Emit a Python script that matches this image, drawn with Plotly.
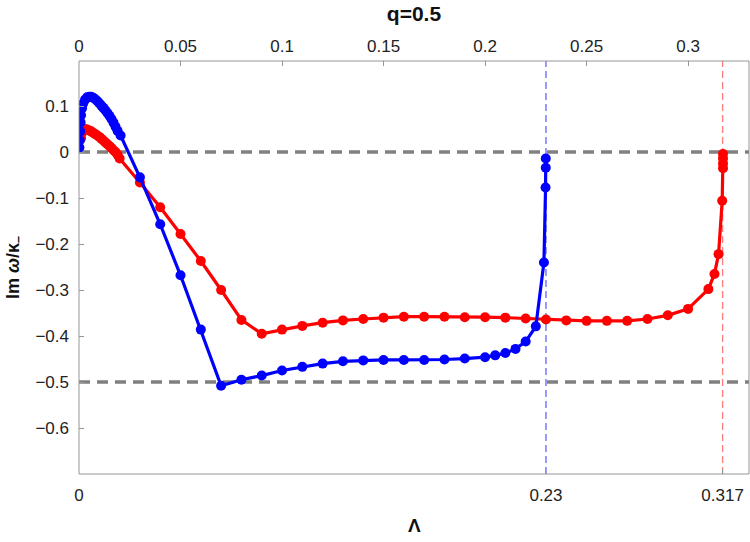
import plotly.graph_objects as go

# Blue series (Lambda, Im omega / kappa_-)
blue_x = [0.0002, 0.0004, 0.0006, 0.0008, 0.001, 0.0015, 0.002, 0.003, 0.004, 0.005,
          0.006, 0.007, 0.008, 0.009, 0.010, 0.011, 0.012, 0.013, 0.014, 0.015,
          0.016, 0.017, 0.018, 0.019, 0.0205,
          0.03, 0.04, 0.05, 0.06, 0.07, 0.08, 0.09, 0.10, 0.11, 0.12, 0.13, 0.14,
          0.15, 0.16, 0.17, 0.18, 0.19, 0.20, 0.205, 0.21, 0.215, 0.22, 0.225,
          0.229, 0.2298, 0.2299, 0.2299]
blue_y = [0.010, 0.025, 0.045, 0.065, 0.080, 0.095, 0.105, 0.114, 0.119, 0.120,
          0.120, 0.118, 0.115, 0.111, 0.106, 0.101, 0.096, 0.091, 0.085, 0.079,
          0.072, 0.064, 0.055, 0.046, 0.036,
          -0.055, -0.157, -0.268, -0.386, -0.508, -0.495, -0.486, -0.475, -0.467,
          -0.460, -0.455, -0.453, -0.452, -0.452, -0.452, -0.451, -0.449, -0.446,
          -0.442, -0.437, -0.428, -0.412, -0.379, -0.240, -0.077, -0.034, -0.014]

# Red series
red_x = [0.001, 0.0015, 0.002, 0.003, 0.004, 0.005, 0.006, 0.007, 0.008, 0.009,
         0.010, 0.011, 0.012, 0.013, 0.014, 0.015, 0.016, 0.017, 0.018, 0.019, 0.02,
         0.03, 0.04, 0.05, 0.06, 0.07, 0.08, 0.09, 0.10, 0.11, 0.12, 0.13, 0.14,
         0.15, 0.16, 0.17, 0.18, 0.19, 0.20, 0.21, 0.22, 0.23, 0.24, 0.25, 0.26,
         0.27, 0.28, 0.29, 0.30, 0.31, 0.313, 0.315, 0.3168, 0.3172, 0.3172,
         0.3172, 0.3172]
red_y = [0.030, 0.042, 0.048, 0.050, 0.049, 0.047, 0.045, 0.042, 0.039, 0.036,
         0.033, 0.029, 0.025, 0.021, 0.017, 0.013, 0.009, 0.004, 0.000, -0.006, -0.014,
         -0.066, -0.120, -0.178, -0.237, -0.300, -0.365, -0.395, -0.386, -0.378,
         -0.371, -0.366, -0.363, -0.360, -0.358, -0.358, -0.358, -0.359, -0.359,
         -0.360, -0.362, -0.364, -0.366, -0.367, -0.367, -0.367, -0.363, -0.355,
         -0.341, -0.298, -0.265, -0.222, -0.106, -0.035, -0.025, -0.014, -0.004]

bottom_ticks = [0, 0.23, 0.317]
bottom_labels = ["0", "0.23", "0.317"]
top_ticks = [0, 0.05, 0.1, 0.15, 0.2, 0.25, 0.3]
top_labels = ["0", "0.05", "0.1", "0.15", "0.2", "0.25", "0.3"]
y_ticks = [0.1, 0, -0.1, -0.2, -0.3, -0.4, -0.5, -0.6]
y_labels = ["0.1", "0", "\u22120.1", "\u22120.2", "\u22120.3", "\u22120.4", "\u22120.5", "\u22120.6"]
h_lines = [0, -0.5]
v_lines = [(0.23, "rgba(60,60,255,0.8)"), (0.317, "rgba(255,80,80,0.75)")]

FONT = "Liberation Sans, Arial, sans-serif"
xr = [0, 0.33]
yr = [-0.7, 0.198]

fig = go.Figure()
fig.add_trace(go.Scatter(x=red_x, y=red_y, mode="lines+markers",
                         line=dict(color="rgb(255,0,0)", width=3.2),
                         marker=dict(color="rgb(255,0,0)", size=10),
                         showlegend=False))
fig.add_trace(go.Scatter(x=blue_x, y=blue_y, mode="lines+markers",
                         line=dict(color="rgb(0,0,255)", width=3.2),
                         marker=dict(color="rgb(0,0,255)", size=10),
                         showlegend=False))
# invisible trace for top axis
fig.add_trace(go.Scatter(x=[0], y=[0], xaxis="x2", mode="markers",
                         marker=dict(opacity=0), showlegend=False, hoverinfo="skip"))

for hv in h_lines:
    fig.add_shape(type="line", xref="paper", yref="y", x0=0, x1=1, y0=hv, y1=hv,
                  line=dict(color="rgb(128,128,128)", width=3.5, dash="11px,7px"),
                  layer="below")
for xv, col in v_lines:
    fig.add_shape(type="line", xref="x", yref="paper", x0=xv, x1=xv, y0=0, y1=1,
                  line=dict(color=col, width=1.3, dash="7px,4px"), layer="below")

fig.add_shape(type="rect", xref="paper", yref="paper", x0=0, x1=1, y0=0, y1=1,
              line=dict(color="rgb(150,150,150)", width=1), layer="above")

fig.add_annotation(text="<b>\u039b</b>", xref="paper", yref="paper", x=0.5, y=-0.125,
                   xanchor="center", yanchor="middle", showarrow=False,
                   font=dict(family=FONT, size=19, color="#111"))

tickfont = dict(family=FONT, size=17, color="#222")
fig.update_layout(
    width=750, height=542,
    margin=dict(l=79, r=1, t=61, b=68),
    paper_bgcolor="white", plot_bgcolor="white",
    title=dict(text="<b>q=0.5</b>", x=0.552, xanchor="center", y=0.974, yanchor="middle",
               font=dict(family=FONT, size=21, color="#111")),
    xaxis=dict(range=xr, tickvals=bottom_ticks, ticktext=bottom_labels,
               ticks="inside", ticklen=5, tickcolor="rgb(150,150,150)",
               showgrid=False, zeroline=False, showline=False,
               tickfont=tickfont, ticklabelstandoff=9),
    xaxis2=dict(range=xr, overlaying="x", side="top", tickvals=top_ticks,
                ticktext=top_labels, ticks="inside", ticklen=5,
                tickcolor="rgb(150,150,150)", showgrid=False, zeroline=False,
                showline=False, tickfont=tickfont, ticklabelstandoff=5),
    yaxis=dict(range=yr, tickvals=y_ticks, ticktext=y_labels,
               ticks="inside", ticklen=5, tickcolor="rgb(150,150,150)",
               showgrid=False, zeroline=False, showline=False,
               tickfont=tickfont, ticklabelstandoff=9,
               title=dict(text="<b>Im <i>\u03c9</i>/\u03ba<sub>\u2013</sub></b>",
                          font=dict(family=FONT, size=18, color="#111"), standoff=11)),
)

fig.write_html("out.html")
